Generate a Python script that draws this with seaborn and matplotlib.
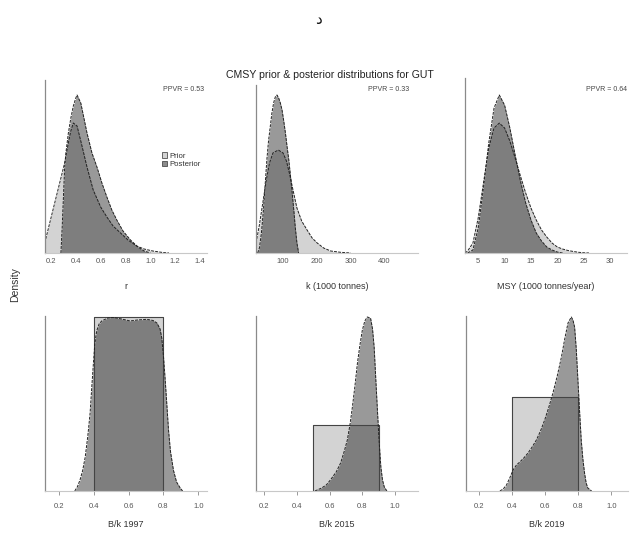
import numpy as np
import pandas as pd
import matplotlib
matplotlib.use("Agg")
import matplotlib.pyplot as plt
import seaborn as sns
from matplotlib.patches import Patch

# ---------------- data ----------------
title = "CMSY prior & posterior distributions for GUT"
top_char = "د"
ylabel = "Density"

# r
r_prior_x = [0.15, 0.19, 0.23, 0.27, 0.31, 0.34, 0.36, 0.38, 0.41, 0.44, 0.49, 0.54, 0.60, 0.65, 0.70, 0.76, 0.82, 0.89, 0.95, 1.02, 1.10, 1.15]
r_prior_y = [0.25, 0.75, 1.25, 1.75, 2.25, 2.75, 3.05, 3.25, 3.175, 2.8, 2.15, 1.575, 1.15, 0.9, 0.675, 0.5, 0.325, 0.175, 0.1, 0.05, 0.0125, 0.0]
r_post_x = [0.28, 0.29, 0.30, 0.31, 0.32, 0.34, 0.36, 0.38, 0.40, 0.41, 0.44, 0.49, 0.53, 0.57, 0.61, 0.65, 0.69, 0.73, 0.78, 0.84, 0.90, 0.95, 1.00]
r_post_y = [0.0, 0.625, 1.375, 2.125, 2.5, 3.0, 3.375, 3.675, 3.875, 3.95, 3.75, 3.0, 2.5, 2.15, 1.75, 1.4, 1.075, 0.825, 0.55, 0.325, 0.15, 0.05, 0.0]

# k (1000 tonnes)
k_prior_x = [20, 30, 40, 50, 60, 70, 86, 100, 110, 120, 130, 141, 155, 171, 186, 201, 220, 241, 270, 300]
k_prior_y = [0.0010, 0.0028, 0.0050, 0.0072, 0.0090, 0.0100, 0.0103, 0.0100, 0.0092, 0.0078, 0.0062, 0.0045, 0.0032, 0.0023, 0.0015, 0.0010, 0.0005, 0.0002, 0.00007, 0.0]
k_post_x = [25, 30, 36, 42, 47, 52, 57, 62, 67, 72, 77, 82, 87, 92, 97, 102, 107, 112, 117, 122, 127, 132, 136, 141, 146]
k_post_y = [0.0, 0.0005, 0.0020, 0.0043, 0.0068, 0.0093, 0.0112, 0.0126, 0.0140, 0.0150, 0.0156, 0.0158, 0.0155, 0.0150, 0.0143, 0.0132, 0.0120, 0.0106, 0.0093, 0.0077, 0.0060, 0.0042, 0.0026, 0.0010, 0.0]

# MSY (1000 tonnes/year)
m_prior_x = [2.5, 3.0, 4.0, 5.0, 6.0, 7.0, 8.0, 9.0, 10.0, 11.0, 12.0, 13.0, 14.0, 15.0, 16.0, 17.0, 18.0, 19.0, 20.0, 21.0, 22.0, 23.0, 24.0, 25.0, 26.0]
m_prior_y = [0.0, 0.0017, 0.0083, 0.0292, 0.0583, 0.0875, 0.1042, 0.1083, 0.1042, 0.0933, 0.0792, 0.0642, 0.0500, 0.0375, 0.0275, 0.0192, 0.0133, 0.0083, 0.0050, 0.0033, 0.0021, 0.0013, 0.0006, 0.0002, 0.0]
m_post_x = [3.0, 4.0, 5.0, 6.0, 7.0, 8.0, 9.0, 10.0, 11.0, 12.0, 13.0, 14.0, 15.0, 16.0, 17.0, 18.0, 19.0, 20.0, 21.0]
m_post_y = [0.0, 0.0025, 0.0208, 0.0542, 0.0917, 0.1208, 0.1317, 0.1233, 0.1042, 0.0817, 0.0600, 0.0417, 0.0275, 0.0167, 0.0100, 0.0050, 0.0025, 0.0008, 0.0]

# B/k priors (uniform ranges)
bk_labels = ["B/k 1997", "B/k 2015", "B/k 2019"]
bk_prior_lo = [0.4, 0.5, 0.4]
bk_prior_hi = [0.8, 0.9, 0.8]

b97_x = [0.29, 0.305, 0.32, 0.335, 0.35, 0.365, 0.378, 0.388, 0.397, 0.405, 0.416, 0.43, 0.445, 0.48, 0.512, 0.56, 0.608, 0.65, 0.704, 0.74, 0.762, 0.78, 0.79, 0.80, 0.81, 0.82, 0.829, 0.84, 0.857, 0.875, 0.896, 0.91]
b97_y = [0.0, 0.06, 0.157, 0.29, 0.486, 0.79, 1.114, 1.5, 1.829, 2.11, 2.3, 2.4, 2.443, 2.486, 2.493, 2.471, 2.443, 2.457, 2.467, 2.45, 2.414, 2.33, 2.2, 1.93, 1.586, 1.21, 0.871, 0.57, 0.3, 0.13, 0.043, 0.0]

b15_x = [0.51, 0.55, 0.58, 0.605, 0.64, 0.667, 0.69, 0.708, 0.725, 0.739, 0.755, 0.77, 0.785, 0.80, 0.815, 0.83, 0.85, 0.862, 0.872, 0.882, 0.893, 0.903, 0.913, 0.923, 0.934, 0.95]
b15_y = [0.0, 0.11, 0.23, 0.42, 0.72, 1.06, 1.52, 1.93, 2.54, 3.18, 4.0, 4.85, 5.53, 6.1, 6.44, 6.59, 6.55, 6.14, 5.45, 4.24, 2.95, 1.82, 0.91, 0.42, 0.15, 0.0]

b19_x = [0.325, 0.345, 0.365, 0.385, 0.405, 0.425, 0.445, 0.47, 0.495, 0.52, 0.546, 0.571, 0.596, 0.621, 0.646, 0.672, 0.697, 0.717, 0.737, 0.757, 0.767, 0.777, 0.787, 0.797, 0.807, 0.817, 0.827, 0.837, 0.847, 0.857, 0.88]
b19_y = [0.0, 0.053, 0.16, 0.35, 0.56, 0.69, 0.77, 0.88, 1.01, 1.17, 1.36, 1.6, 1.89, 2.23, 2.61, 3.06, 3.56, 4.04, 4.47, 4.63, 4.55, 4.36, 3.78, 2.95, 2.13, 1.36, 0.85, 0.48, 0.21, 0.08, 0.0]

top_labels = ["r", "k (1000 tonnes)", "MSY (1000 tonnes/year)"]
top_ticks = [[0.2, 0.4, 0.6, 0.8, 1.0, 1.2, 1.4], [100, 200, 300, 400], [5, 10, 15, 20, 25, 30]]
bk_ticks = [0.2, 0.4, 0.6, 0.8, 1.0]
ppvr_text = ["PPVR = 0.53", "PPVR = 0.33", "PPVR = 0.64"]
legend_labels = ["Prior", "Posterior"]

# ---------------- style ----------------
sns.set_style("white")
plt.rcParams['font.family'] = ['Liberation Sans', 'DejaVu Sans']

PRIOR_C = '#d3d3d3'
POST_C = 'black'
POST_A = 0.4
LINE_C = '#222222'
DASH = (0, (3, 1.2))

fig = plt.figure(figsize=(6.32, 5.41), dpi=100)
W, H = 632.0, 541.0


def make_ax(left_px, base_px, width_px=162, height_px=175):
    return fig.add_axes([left_px / W, 1 - base_px / H, width_px / W, height_px / H])


def style_ax(ax, ticks, xlim, ylim_top, tick_len, pad, spine_frac):
    ax.set_xlim(*xlim)
    ax.set_ylim(0, ylim_top)
    ax.set_xticks(ticks)
    ax.set_yticks([])
    ax.tick_params(axis='x', labelsize=5.5, labelcolor='#555555', length=tick_len,
                   width=0.7, color='#999999', pad=pad, direction='out', bottom=True)
    for s in ['top', 'right']:
        ax.spines[s].set_visible(False)
    ax.spines['left'].set_color('#8a8a8a')
    ax.spines['left'].set_linewidth(0.9)
    ax.spines['left'].set_bounds(0, ylim_top * spine_frac)
    ax.spines['bottom'].set_color('#c8c8c8')
    ax.spines['bottom'].set_linewidth(0.8)
    ax.grid(False)


def outline(ax, x, y, ls=DASH, color=LINE_C, lw=0.7):
    sns.lineplot(x=x, y=y, ax=ax, color=color, lw=lw, linestyle=ls,
                 sort=False, estimator=None, legend=False)


# ---------------- top row ----------------
top_data = [(r_prior_x, r_prior_y, r_post_x, r_post_y),
            (k_prior_x, k_prior_y, k_post_x, k_post_y),
            (m_prior_x, m_prior_y, m_post_x, m_post_y)]
top_left = [45, 256, 465]
top_xlim = [(0.152, 1.456), (20, 499), (2.5, 33.2)]
top_spine = [173 / 175, 168 / 175, 1.0]
ppvr_x = [0.728, 0.69, 0.745]

axes_top = []
for i, (px, py, qx, qy) in enumerate(top_data):
    ax = make_ax(top_left[i], 253)
    ax.fill_between(px, py, color=PRIOR_C, lw=0)
    ax.fill_between(qx, qy, color=POST_C, alpha=POST_A, lw=0)
    outline(ax, px, py)
    outline(ax, qx, qy)
    ytop = max(qy) * 175 / 158
    style_ax(ax, top_ticks[i], top_xlim[i], ytop, 0, 3.5, top_spine[i])
    ax.set_xlabel(top_labels[i], fontsize=6.5, color='#333333')
    ax.xaxis.set_label_coords(0.5, -0.194)
    ax.xaxis.label.set_va('center')
    ax.set_ylabel('')
    ax.text(ppvr_x[i], 0.937, ppvr_text[i], transform=ax.transAxes, fontsize=5.0,
            color='#444444', ha='left', va='center', clip_on=True)
    axes_top.append(ax)

handles = [Patch(facecolor=PRIOR_C, edgecolor='#333333', lw=0.5),
           Patch(facecolor='#8c8c8c', edgecolor='#333333', lw=0.5)]
axes_top[0].legend(handles, legend_labels, loc='upper left', bbox_to_anchor=(0.72, 0.575),
                   frameon=False, fontsize=5.6, handlelength=0.7, handleheight=0.7,
                   handletextpad=0.3, labelspacing=0.1, borderpad=0, borderaxespad=0,
                   labelcolor='#333333')

# ---------------- bottom row ----------------
bot_post = [(b97_x, b97_y), (b15_x, b15_y), (b19_x, b19_y)]
bot_left = [45, 256, 466]
bot_xlim = [(0.119, 1.05), (0.15, 1.14), (0.12, 1.1)]

for i, (qx, qy) in enumerate(bot_post):
    ax = make_ax(bot_left[i], 491)
    lo, hi = bk_prior_lo[i], bk_prior_hi[i]
    dens = 1.0 / (hi - lo)
    rx = [lo, lo, hi, hi]
    ry = [0, dens, dens, 0]
    ax.fill_between([lo, hi], [dens, dens], color=PRIOR_C, lw=0)
    ax.fill_between(qx, qy, color=POST_C, alpha=POST_A, lw=0)
    outline(ax, rx, ry, ls='-', color='#444444', lw=0.8)
    outline(ax, qx, qy)
    ytop = max(max(qy), dens) * 175 / 174
    style_ax(ax, bk_ticks, bot_xlim[i], ytop, 3.0, 5.5, 1.0)
    ax.set_xlabel(bk_labels[i], fontsize=6.5, color='#333333')
    ax.xaxis.set_label_coords(0.5, -0.194)
    ax.xaxis.label.set_va('center')
    ax.set_ylabel('')

# ---------------- figure texts ----------------
fig.text(330 / W, 1 - 75 / H, title, ha='center', va='center', fontsize=7.6, color='#222222')
fig.text(318 / W, 1 - 20 / H, top_char, ha='center', va='center', fontsize=11, color='#111111')
fig.text(15 / W, 1 - 285 / H, ylabel, ha='center', va='center', rotation=90,
         fontsize=7.5, color='#333333')

fig.savefig('out.png', dpi=100)
